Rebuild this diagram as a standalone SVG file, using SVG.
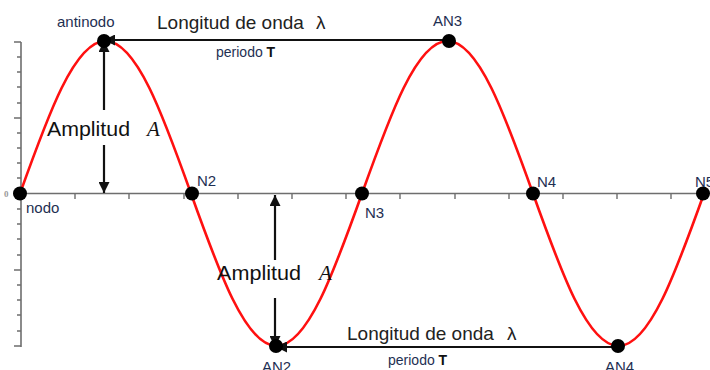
<svg xmlns="http://www.w3.org/2000/svg" width="710" height="370" viewBox="0 0 710 370">
<style>
.axis{stroke:#6e6e6e;stroke-width:1.6;fill:none}
.tick{stroke:#6e6e6e;stroke-width:1.4}
.wave{stroke:#ff1010;stroke-width:2.6;fill:none}
.arr{stroke:#111;stroke-width:2.2;fill:none}
.dot{fill:#000}
.lbl{font-family:"Liberation Sans",Arial,sans-serif;font-size:15px;fill:#1e2f52}
.big{font-family:"Liberation Sans",Arial,sans-serif;font-size:19px;fill:#222}
.amp{font-family:"Liberation Sans",Arial,sans-serif;font-size:20px;fill:#111}
.ital{font-family:"Liberation Serif","Times New Roman",serif;font-size:21px;font-style:italic;fill:#111}
.per{font-family:"Liberation Sans",Arial,sans-serif;font-size:14px;fill:#1e2f52}
.bold{font-weight:bold;fill:#111}
</style>
<defs>
<marker id="ah" viewBox="0 0 10 10" refX="10" refY="5" markerWidth="5" markerHeight="5" orient="auto" markerUnits="strokeWidth">
<path d="M0,0 L10,5 L0,10 z" fill="#111"/>
</marker>
</defs>
<g id="axes">
<path class="axis" d="M21,42 V347 M14,42 H21 M14,118 H21 M14,270 H21 M14,346 H21 M21,193.5 H710"/>
<path class="tick" d="M17,57 H21 M17,72 H21 M17,87 H21 M17,103 H21 M17,133 H21 M17,148 H21 M17,163 H21 M17,178 H21 M17,209 H21 M17,224 H21 M17,239 H21 M17,255 H21 M17,285 H21 M17,300 H21 M17,315 H21 M17,331 H21"/>
<path class="tick" d="M75,194 V199 M129,194 V199 M184,194 V199 M238,194 V199 M292,194 V199 M346,194 V199 M400,194 V199 M455,194 V199 M509,194 V199 M563,194 V199 M617,194 V199 M671,194 V199"/>
<text x="4" y="197" font-family="Liberation Serif,serif" font-size="9" font-weight="bold" fill="#999">0</text>
</g>
<g id="wave">
<path class="wave" d="M20,193.5 C47.9,115.4 74.6,41 105.5,41 C136.4,41 163.1,115.4 191,193.5 C218.9,271.6 245.6,346 276.5,346 C307.4,346 334.1,271.6 362,193.5 C389.9,115.4 416.6,41 447.5,41 C478.4,41 505.1,115.4 533,193.5 C560.9,271.6 587.6,346 618.5,346 C649.4,346 676.1,271.6 704,193.5"/>
</g>
<g id="connectors">
<line class="arr" x1="448" y1="40" x2="104" y2="40" marker-end="url(#ah)"/>
<line class="arr" x1="104" y1="110" x2="104" y2="41" marker-end="url(#ah)"/>
<line class="arr" x1="104" y1="145" x2="104" y2="193" marker-end="url(#ah)"/>
<line class="arr" x1="618" y1="347" x2="276" y2="347" marker-end="url(#ah)"/>
<line class="arr" x1="275" y1="260" x2="275" y2="195" marker-end="url(#ah)"/>
<line class="arr" x1="275" y1="298" x2="275" y2="347" marker-end="url(#ah)"/>
</g>
<g id="nodo"><circle class="dot" cx="20" cy="193.5" r="7"/><text class="lbl" x="26" y="213">nodo</text></g>
<g id="antinodo"><circle class="dot" cx="104" cy="41" r="7"/><text class="lbl" x="57" y="27">antinodo</text></g>
<g id="N2"><circle class="dot" cx="192" cy="193.5" r="7"/><text class="lbl" x="197" y="186">N2</text></g>
<g id="AN2"><circle class="dot" cx="276" cy="346" r="7"/><text class="lbl" x="262" y="372">AN2</text></g>
<g id="N3"><circle class="dot" cx="362" cy="193.5" r="7"/><text class="lbl" x="365" y="218">N3</text></g>
<g id="AN3"><circle class="dot" cx="449" cy="41" r="7"/><text class="lbl" x="433" y="26">AN3</text></g>
<g id="N4"><circle class="dot" cx="533" cy="193.5" r="7"/><text class="lbl" x="537" y="187">N4</text></g>
<g id="AN4"><circle class="dot" cx="618" cy="346" r="7"/><text class="lbl" x="605" y="372">AN4</text></g>
<g id="N5"><circle class="dot" cx="703" cy="193.5" r="7"/><text class="lbl" x="695" y="187">N5</text></g>
<g id="labels-top">
<text class="big" x="157" y="29">Longitud de onda</text>
<text class="big" x="316" y="29">λ</text>
<text class="per" x="216" y="57">periodo <tspan class="bold">T</tspan></text>
</g>
<g id="labels-bottom">
<text class="big" x="347" y="340">Longitud de onda</text>
<text class="big" x="507" y="340">λ</text>
<text class="per" x="388" y="365">periodo <tspan class="bold">T</tspan></text>
</g>
<g id="amplitud1">
<text class="amp" x="47" y="136" textLength="83" lengthAdjust="spacingAndGlyphs">Amplitud</text>
<text class="ital" x="147" y="136">A</text>
</g>
<g id="amplitud2">
<text class="amp" x="217" y="280" textLength="84" lengthAdjust="spacingAndGlyphs">Amplitud</text>
<text class="ital" x="319" y="280">A</text>
</g>
</svg>
